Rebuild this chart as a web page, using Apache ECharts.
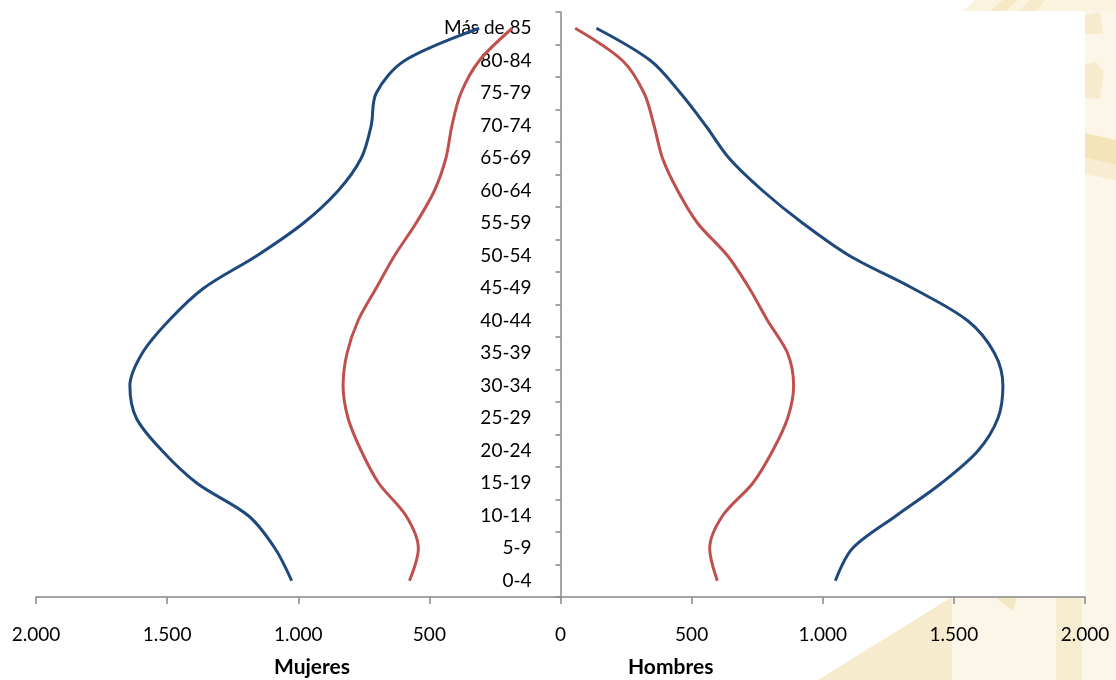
<!DOCTYPE html>
<html>
<head>
<meta charset="utf-8">
<script src="https://cdn.jsdelivr.net/npm/echarts@6/dist/echarts.min.js"></script>
<style>
  html, body { margin: 0; padding: 0; background: #ffffff; }
  #chart { width: 1116px; height: 680px; }
</style>
</head>
<body>
<div id="chart"></div>
<script>
// ---- Data ----
const categories = ['0-4','5-9','10-14','15-19','20-24','25-29','30-34','35-39','40-44','45-49','50-54','55-59','60-64','65-69','70-74','75-79','80-84','Más de 85'];
const mujeresAzul = [1025,1089,1190,1386,1519,1617,1642,1595,1494,1361,1158,981,848,760,722,703,595,310];
const mujeresRojo = [576,542,589,693,760,810,829,814,772,703,633,551,481,437,414,380,310,184];
const hombresAzul = [1048,1114,1280,1452,1592,1668,1687,1655,1553,1343,1102,924,771,643,554,458,344,137];
const hombresRojo = [598,569,618,733,809,866,889,866,790,720,637,523,447,389,357,319,237,56];
const xTicks = { min: -2000, max: 2000, interval: 500 };
const sideLabels = ['Mujeres', 'Hombres'];

const BLUE = '#1F497D';
const RED = '#C0504D';
const AXIS = '#868686';
const FONT = 'Lato';

const GRID_LEFT = 36, GRID_RIGHT = 31;
const gridWidth = 1116 - GRID_LEFT - GRID_RIGHT;

function fmt(v) {
  const a = Math.abs(v);
  if (a >= 1000) {
    const th = Math.floor(a / 1000);
    const rest = String(a % 1000).padStart(3, '0');
    return th + '.' + rest;
  }
  return String(a);
}

function lineSeries(name, values, color, negate) {
  return {
    name: name,
    type: 'line',
    data: values.map(v => negate ? -v : v),
    smooth: 0.32,
    symbol: 'none',
    lineStyle: { color: color, width: 3 },
    itemStyle: { color: color },
    z: 3
  };
}

const chart = echarts.init(document.getElementById('chart'), null, { renderer: 'canvas' });

const bgZ = -10;
const option = {
  backgroundColor: '#ffffff',
  animation: false,
  grid: { left: GRID_LEFT, right: GRID_RIGHT, top: 12, bottom: 83, containLabel: false, outerBoundsMode: 'none' },
  xAxis: {
    type: 'value',
    min: xTicks.min,
    max: xTicks.max,
    interval: xTicks.interval,
    axisLine: { show: true, onZero: false, lineStyle: { color: AXIS, width: 1.5 } },
    axisTick: { show: true, length: 7, lineStyle: { color: AXIS, width: 1.5 } },
    splitLine: { show: false },
    axisLabel: {
      formatter: fmt,
      color: '#000000',
      fontFamily: FONT,
      fontSize: 19,
      margin: 28
    }
  },
  yAxis: {
    type: 'category',
    data: categories,
    boundaryGap: true,
    position: 'left',
    offset: -(gridWidth / 2),
    axisLine: { show: true, onZero: false, lineStyle: { color: AXIS, width: 1.5 } },
    axisTick: { show: true, length: 5, lineStyle: { color: AXIS, width: 1.5 } },
    splitLine: { show: false },
    axisLabel: {
      color: '#000000',
      fontFamily: FONT,
      fontSize: 19,
      margin: 29,
      interval: 0
    }
  },
  series: [
    lineSeries('Mujeres total', mujeresAzul, BLUE, true),
    lineSeries('Mujeres parcial', mujeresRojo, RED, true),
    lineSeries('Hombres total', hombresAzul, BLUE, false),
    lineSeries('Hombres parcial', hombresRojo, RED, false)
  ],
  graphic: [
    // decorative cream background outside plot area
    { type: 'rect', z: bgZ, shape: { x: 1085, y: 0, width: 31, height: 680 }, style: { fill: '#FBF6E7' } },
    { type: 'polygon', z: bgZ, shape: { points: [[963,11],[975,0],[1116,0],[1116,11]] }, style: { fill: '#FAF3DE' } },
    { type: 'polygon', z: bgZ, shape: { points: [[990,11],[1003,0],[1018,0],[1006,11]] }, style: { fill: '#F5E8C5' } },
    { type: 'polygon', z: bgZ, shape: { points: [[1020,11],[1030,0],[1045,0],[1036,11]] }, style: { fill: '#F6EACB' } },
    { type: 'polygon', z: bgZ, shape: { points: [[1085,15],[1100,12],[1103,34],[1085,34]] }, style: { fill: '#F6EBCD' } },
    { type: 'polygon', z: bgZ, shape: { points: [[1085,64],[1096,62],[1104,72],[1100,99],[1085,98]] }, style: { fill: '#F6EBCD' } },
    { type: 'polygon', z: bgZ, shape: { points: [[1085,133],[1116,140],[1116,165],[1085,158]] }, style: { fill: '#F3E4BA' } },
    { type: 'polygon', z: bgZ, shape: { points: [[1085,158],[1116,165],[1116,180],[1085,174]] }, style: { fill: '#F7EDD2' } },
    { type: 'polygon', z: bgZ, shape: { points: [[818,680],[952,597],[1116,597],[1116,680]] }, style: { fill: '#FBF6E7' } },
    { type: 'polygon', z: bgZ, shape: { points: [[818,680],[952,597],[952,680]] }, style: { fill: '#F6EBCC' } },
    { type: 'rect', z: bgZ, shape: { x: 1056, y: 597, width: 26, height: 83 }, style: { fill: '#F6ECCF' } },
    { type: 'polygon', z: bgZ, shape: { points: [[995,597],[1017,597],[1013,611]] }, style: { fill: '#F4E7C4' } },
    // side labels
    { type: 'text', z: 100, left: 312 - 38, top: 657, style: { text: sideLabels[0], font: 'bold 21px Lato', fill: '#000000', textAlign: 'left' } },
    { type: 'text', z: 100, left: 670 - 42, top: 657, style: { text: sideLabels[1], font: 'bold 21px Lato', fill: '#000000', textAlign: 'left' } }
  ]
};

chart.setOption(option);
</script>
</body>
</html>
